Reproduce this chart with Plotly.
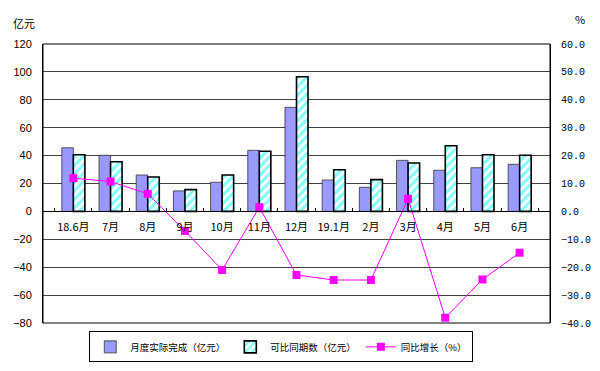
import plotly.graph_objects as go

categories = ["18.6月", "7月", "8月", "9月", "10月", "11月", "12月", "19.1月", "2月", "3月", "4月", "5月", "6月"]
actual = [45.6, 40.2, 26.1, 14.7, 20.9, 43.8, 74.6, 22.5, 17.3, 36.6, 29.5, 31.3, 33.8]
comparable = [40.6, 35.6, 24.7, 15.6, 26.1, 43.1, 96.5, 29.9, 22.8, 34.7, 47.1, 40.6, 40.2]
growth = [11.9, 10.7, 6.3, -7.0, -21.0, 1.5, -22.8, -24.6, -24.6, 4.5, -38.1, -24.4, -14.8]

left_ticks = [120, 100, 80, 60, 40, 20, 0, -20, -40, -60, -80]
right_ticks = [60, 50, 40, 30, 20, 10, 0, -10, -20, -30, -40]

FONT = "Noto Sans CJK SC"

fig = go.Figure()
fig.add_trace(go.Bar(
    x=categories, y=actual, name="月度实际完成（亿元）",
    marker=dict(color="#9999FF", line=dict(color="#333333", width=0.8)),
))
fig.add_trace(go.Bar(
    x=categories, y=comparable, name="可比同期数（亿元）",
    marker=dict(color="white", line=dict(color="black", width=1.6),
                pattern=dict(shape="/", fgcolor="#00FFFF", bgcolor="white", size=6, solidity=0.5)),
))
fig.add_trace(go.Scatter(
    x=categories, y=growth, name="同比增长（%）", yaxis="y2", mode="lines+markers",
    line=dict(color="#FF00FF", width=1),
    marker=dict(symbol="square", size=8, color="#FF00FF"),
))

fig.update_layout(
    width=600, height=371,
    margin=dict(l=43, r=50, t=44, b=48, autoexpand=False),
    paper_bgcolor="white", plot_bgcolor="white",
    barmode="group", bargap=0.38, bargroupgap=0,
    font=dict(family=FONT, size=11, color="black"),
    showlegend=True,
    legend=dict(orientation="h", x=0.47, xanchor="center", y=-0.03, yanchor="top",
                bordercolor="black", borderwidth=1, font=dict(size=9.5, family=FONT),
                itemwidth=30, tracegroupgap=0),
    xaxis=dict(type="category", anchor="free", position=0.4, showline=True, linecolor="black",
               linewidth=1, ticks="inside", ticklen=3, tickcolor="black", tickson="boundaries",
               showgrid=False, tickfont=dict(size=11, family=FONT), zeroline=False,
               tickangle=0, automargin=False, ticklabelstandoff=5),
    yaxis=dict(range=[-80, 120], tickvals=left_ticks, showgrid=True, gridcolor="#404040", gridwidth=1,
               zeroline=False, showline=True, linecolor="black", mirror=False, automargin=False,
               tickfont=dict(size=11, family="Liberation Sans"), ticks="", ticklabelstandoff=8),
    yaxis2=dict(range=[-40, 60], tickvals=right_ticks, overlaying="y", side="right",
                tickformat=".1f", showgrid=False, zeroline=False, showline=True, linecolor="black",
                automargin=False,
                tickfont=dict(size=10, family="Liberation Mono"), ticks="", ticklabelstandoff=8),
    shapes=[dict(type="rect", xref="paper", yref="paper", x0=0, x1=1, y0=0, y1=1,
                 line=dict(color="black", width=1), fillcolor="rgba(0,0,0,0)", layer="above")],
    annotations=[
        dict(text="亿元", xref="paper", yref="paper", x=-0.063, y=1.075, xanchor="left", yanchor="middle",
             showarrow=False, font=dict(size=11, family=FONT)),
        dict(text="%", xref="paper", yref="paper", x=1.045, y=1.09, xanchor="left", yanchor="middle",
             showarrow=False, font=dict(size=11, family=FONT)),
    ],
)

fig.write_html("out.html", config={"displayModeBar": False},
               post_script="document.body.style.margin='0';document.body.style.overflow='hidden';")
